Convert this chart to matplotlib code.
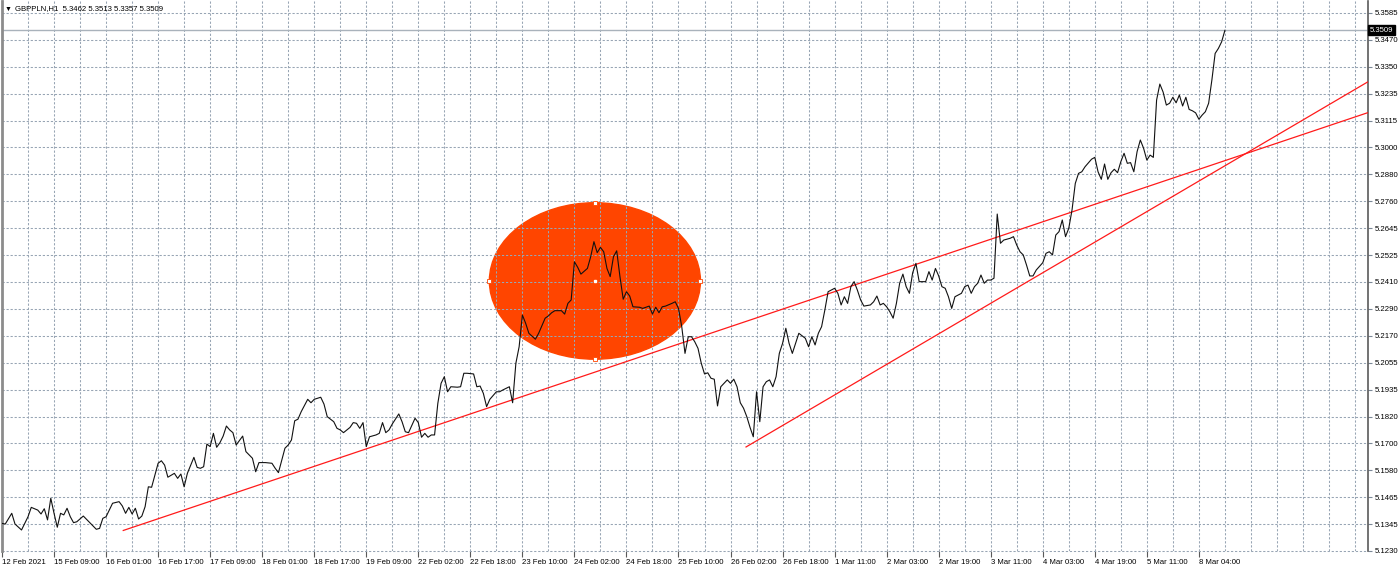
import numpy as np
import matplotlib
matplotlib.use('Agg')
import matplotlib.pyplot as plt
from matplotlib.patches import Ellipse
import matplotlib.transforms as mtransforms
from matplotlib import font_manager

_names = {f.name for f in font_manager.fontManager.ttflist}
_fam = ['Liberation Sans Narrow'] if 'Liberation Sans Narrow' in _names else []
plt.rcParams['font.family'] = _fam + ['Liberation Sans', 'DejaVu Sans']
plt.rcParams['lines.scale_dashes'] = False
FS = 6.6 if _fam else 5.6

# ---------------- data ----------------
symbol = "GBPPLN,H1"
last_ohlc = [5.3462, 5.3513, 5.3357, 5.3509]
bid = 5.3509

bar_idx = [0, 1, 3, 4, 6, 8, 9, 11, 12, 13, 14, 15, 16, 17, 18, 19, 20, 21, 22, 23, 25, 27, 29, 30,
           31, 32, 34, 36, 37, 38, 39, 40, 41, 42, 43, 44, 45, 46, 48, 49, 50, 51, 53, 54, 55, 56,
           57, 59, 60, 61, 62, 63, 64, 65, 66, 67, 68, 69, 70, 71, 72, 74, 75, 77, 78, 79, 81, 83,
           84, 85, 87, 88, 89, 90, 91, 92, 94, 95, 96, 98, 99, 100, 102, 103, 104, 105, 107, 108,
           109, 110, 111, 112, 113, 115, 116, 117, 118, 119, 120, 122, 123, 124, 125, 127, 128,
           129, 130, 131, 132, 133, 134, 135, 136, 137, 138, 140, 141, 142, 143, 145, 146, 147,
           148, 149, 150, 152, 153, 154, 156, 157, 158, 159, 160, 161, 162, 164, 165, 167, 168,
           169, 170, 172, 173, 174, 175, 176, 177, 178, 180, 181, 182, 183, 184, 185, 186, 187,
           188, 189, 190, 191, 192, 193, 194, 196, 197, 199, 200, 201, 202, 203, 204, 206, 207,
           208, 209, 210, 211, 212, 213, 214, 215, 216, 217, 218, 219, 220, 221, 223, 224, 225,
           226, 227, 228, 229, 230, 231, 232, 233, 234, 235, 236, 237, 238, 239, 240, 241, 242,
           243, 244, 245, 247, 248, 249, 250, 251, 252, 253, 254, 256, 257, 258, 259, 260, 261,
           262, 263, 264, 265, 267, 268, 269, 270, 271, 272, 273, 274, 275, 276, 277, 278, 279,
           280, 281, 282, 283, 284, 285, 286, 287, 288, 289, 290, 291, 292, 293, 295, 296, 297,
           298, 299, 300, 301, 302, 303, 304, 305, 306, 307, 308, 310, 311, 312, 313, 314, 315,
           316, 317, 318, 320, 321, 322, 323, 324, 325, 326, 327, 328, 329, 330, 331, 332, 333,
           335, 336, 337, 338, 339, 340, 341, 342, 343, 344, 345, 346, 347, 348, 349, 350, 351,
           352, 353, 354, 355, 356, 357, 358, 359, 360, 361, 362, 363, 364, 365, 366, 367, 368,
           369, 370, 371, 372, 373, 374, 375, 376]

close = [5.1351, 5.1348, 5.1395, 5.1348, 5.1322, 5.1380, 5.1421, 5.1409, 5.1392, 5.1415, 5.1366,
         5.1461, 5.1395, 5.1334, 5.1395, 5.1388, 5.1417, 5.1380, 5.1354, 5.1358, 5.1383, 5.1354,
         5.1325, 5.1329, 5.1373, 5.1380, 5.1439, 5.1446, 5.1427, 5.1395, 5.1421, 5.1392, 5.1417,
         5.1370, 5.1383, 5.1424, 5.1511, 5.1509, 5.1614, 5.1625, 5.1606, 5.1553, 5.1570, 5.1548,
         5.1567, 5.1511, 5.1570, 5.1640, 5.1596, 5.1592, 5.1599, 5.1698, 5.1687, 5.1745, 5.1684,
         5.1704, 5.1733, 5.1777, 5.1760, 5.1748, 5.1694, 5.1733, 5.1665, 5.1636, 5.1577, 5.1617,
         5.1617, 5.1614, 5.1592, 5.1573, 5.1680, 5.1694, 5.1716, 5.1800, 5.1807, 5.1840, 5.1894,
         5.1879, 5.1894, 5.1903, 5.1873, 5.1818, 5.1796, 5.1767, 5.1760, 5.1748, 5.1771, 5.1792,
         5.1789, 5.1767, 5.1792, 5.1687, 5.1730, 5.1738, 5.1745, 5.1792, 5.1748, 5.1760, 5.1786,
         5.1830, 5.1796, 5.1752, 5.1748, 5.1811, 5.1792, 5.1728, 5.1745, 5.1728, 5.1738, 5.1738,
         5.1876, 5.1964, 5.1993, 5.1927, 5.1949, 5.1947, 5.1949, 5.2008, 5.2008, 5.2005, 5.1949,
         5.1952, 5.1920, 5.1862, 5.1894, 5.1927, 5.1927, 5.1935, 5.1949, 5.1879, 5.2052, 5.2124,
         5.2263, 5.2227, 5.2183, 5.2157, 5.2183, 5.2249, 5.2259, 5.2273, 5.2282, 5.2282, 5.2267,
         5.2314, 5.2329, 5.2496, 5.2472, 5.2442, 5.2467, 5.2518, 5.2584, 5.2536, 5.2559, 5.2540,
         5.2467, 5.2431, 5.2518, 5.2544, 5.2431, 5.2332, 5.2365, 5.2346, 5.2299, 5.2297, 5.2292,
         5.2302, 5.2267, 5.2297, 5.2273, 5.2299, 5.2302, 5.2314, 5.2321, 5.2292, 5.2212, 5.2095,
         5.2168, 5.2168, 5.2146, 5.2117, 5.2052, 5.2005, 5.2010, 5.1986, 5.1982, 5.1865, 5.1949,
         5.1979, 5.1964, 5.1982, 5.1949, 5.1879, 5.1855, 5.1818, 5.1771, 5.1730, 5.1927, 5.1796,
         5.1949, 5.1971, 5.1979, 5.1949, 5.1993, 5.2095, 5.2139, 5.2205, 5.2139, 5.2095, 5.2139,
         5.2183, 5.2161, 5.2124, 5.2168, 5.2132, 5.2183, 5.2212, 5.2285, 5.2365, 5.2380, 5.2358,
         5.2307, 5.2343, 5.2314, 5.2387, 5.2409, 5.2372, 5.2329, 5.2302, 5.2307, 5.2321, 5.2346,
         5.2307, 5.2314, 5.2299, 5.2277, 5.2249, 5.2314, 5.2402, 5.2442, 5.2387, 5.2358, 5.2448,
         5.2489, 5.2409, 5.2409, 5.2409, 5.2453, 5.2416, 5.2467, 5.2434, 5.2387, 5.2380, 5.2343,
         5.2292, 5.2343, 5.2358, 5.2387, 5.2394, 5.2358, 5.2387, 5.2402, 5.2438, 5.2402, 5.2416,
         5.2416, 5.2424, 5.2705, 5.2577, 5.2591, 5.2599, 5.2606, 5.2569, 5.2540, 5.2526, 5.2482,
         5.2434, 5.2434, 5.2460, 5.2492, 5.2533, 5.2540, 5.2526, 5.2613, 5.2628, 5.2679, 5.2606,
         5.2643, 5.2723, 5.2839, 5.2883, 5.2890, 5.2912, 5.2945, 5.2953, 5.2890, 5.2857, 5.2924,
         5.2857, 5.2886, 5.2901, 5.2886, 5.2934, 5.2971, 5.2927, 5.2930, 5.2890, 5.2978, 5.3029,
         5.2993, 5.2941, 5.2963, 5.2953, 5.3204, 5.3274, 5.3239, 5.3182, 5.3190, 5.3216, 5.3192,
         5.3226, 5.3178, 5.3216, 5.3163, 5.3157, 5.3148, 5.3120, 5.3138, 5.3153, 5.3190, 5.3292,
         5.3408, 5.3430, 5.3459, 5.3509]

time_labels = ["12 Feb 2021", "15 Feb 09:00", "16 Feb 01:00", "16 Feb 17:00", "17 Feb 09:00",
               "18 Feb 01:00", "18 Feb 17:00", "19 Feb 09:00", "22 Feb 02:00", "22 Feb 18:00",
               "23 Feb 10:00", "24 Feb 02:00", "24 Feb 18:00", "25 Feb 10:00", "26 Feb 02:00",
               "26 Feb 18:00", "1 Mar 11:00", "2 Mar 03:00", "2 Mar 19:00", "3 Mar 11:00",
               "4 Mar 03:00", "4 Mar 19:00", "5 Mar 11:00", "8 Mar 04:00"]
bars_per_label = 16
bars_per_grid = 8

price_labels = ["5.1230", "5.1345", "5.1465", "5.1580", "5.1700", "5.1820", "5.1935", "5.2055",
                "5.2170", "5.2290", "5.2410", "5.2525", "5.2645", "5.2760", "5.2880", "5.3000",
                "5.3115", "5.3235", "5.3350", "5.3470", "5.3585"]

# trend lines (bar, price) anchors
trend_lines = [((37.1, 5.1319), (420.0, 5.3149)),
               ((228.6, 5.1684), (420.0, 5.3284))]

# ellipse object: centre (bar, price), width in bars, height in price
ell_center = (182.3, 5.2412)
ell_width = 64.9
ell_height = 0.0685

# ---------------- figure ----------------
W, H = 1400, 570
fig = plt.figure(figsize=(W / 100, H / 100), dpi=100, facecolor='white')
ax = fig.add_axes([2 / W, 19 / H, 1366 / W, 550 / H])
ax.set_facecolor('white')

x_max = 420
y_lo = float(price_labels[0])
y_hi = float(price_labels[-1])
step = (y_hi - y_lo) / (len(price_labels) - 1)
ax.set_xlim(0, x_max)
ax.set_ylim(y_lo, y_lo + step * 550 / 26.9)

# ellipse (background object)
ax.add_patch(Ellipse(ell_center, ell_width, ell_height, facecolor='#FF4500',
                     edgecolor='#FF4500', lw=1, zorder=1))

# grid
grid_col = '#98a5b4'
dash = (0, (1.6, 1.3))
price_ticks = np.linspace(y_lo, y_hi, len(price_labels))
for p in price_ticks:
    ax.axhline(p, color=grid_col, lw=0.75, ls=dash, zorder=2, clip_on=False)
for b in range(bars_per_grid, x_max, bars_per_grid):
    ax.axvline(b, color=grid_col, lw=0.75, ls=dash, zorder=2)

# bid line
ax.axhline(bid, color='#a9b2bb', lw=1.0, zorder=2.5)

# ellipse handles
cx, cy = ell_center
hx = [cx - ell_width / 2, cx + ell_width / 2, cx, cx]
hy = [cy, cy, cy + ell_height / 2, cy - ell_height / 2]
ax.plot(hx, hy, ls='none', marker='s', ms=2.6, mfc='white', mec='#FF4500', mew=0.6, zorder=5)
ax.plot([cx], [cy], ls='none', marker='s', ms=2.0, mfc='white', mec='white', zorder=5)

# trend lines
for (x0, y0), (x1, y1) in trend_lines:
    ax.plot([x0, x1], [y0, y1], color='#ff1a1a', lw=0.9, zorder=3, solid_capstyle='butt')

# price line
ax.plot(bar_idx, close, color='#111111', lw=0.8, zorder=4)

# axes styling
ax.spines['top'].set_visible(False)
ax.spines['bottom'].set_visible(False)
ax.spines['left'].set_color('#8c8c8c')
ax.spines['left'].set_linewidth(2.0)
ax.spines['right'].set_color('#5a5a5a')
ax.spines['right'].set_linewidth(1.2)

ax.yaxis.tick_right()
ax.set_yticks(price_ticks)
ax.set_yticklabels(price_labels)
ax.tick_params(axis='y', direction='out', length=3, width=0.8, color='#7a8796',
               pad=1.5, labelsize=FS, labelcolor='black', left=False)

xt = [i * bars_per_label for i in range(len(time_labels))]
ax.set_xticks(xt)
ax.set_xticklabels(time_labels)
for lbl in ax.get_xticklabels():
    lbl.set_horizontalalignment('left')
ax.tick_params(axis='x', direction='out', length=4, width=0.8, color='#5a5a5a',
               pad=1.5, labelsize=FS, labelcolor='black')

# bid label box
trans = mtransforms.blended_transform_factory(ax.transAxes, ax.transData)
ax.text(1.0 + 2 / 1366, bid, f"{bid:.4f}", transform=trans, ha='left', va='center',
        fontsize=FS, color='white', zorder=10,
        bbox=dict(boxstyle='square,pad=0.2', fc='black', ec='black'))

# header text
fig.text(5 / W, 1 - 9 / H, "\u25BC", fontsize=5, va='center', ha='left', color='black')
fig.text(15 / W, 1 - 9 / H,
         f"{symbol}  " + " ".join(f"{v:.4f}" for v in last_ohlc),
         fontsize=FS, va='center', ha='left', color='black')

fig.savefig('out.png', dpi=100, facecolor='white')
